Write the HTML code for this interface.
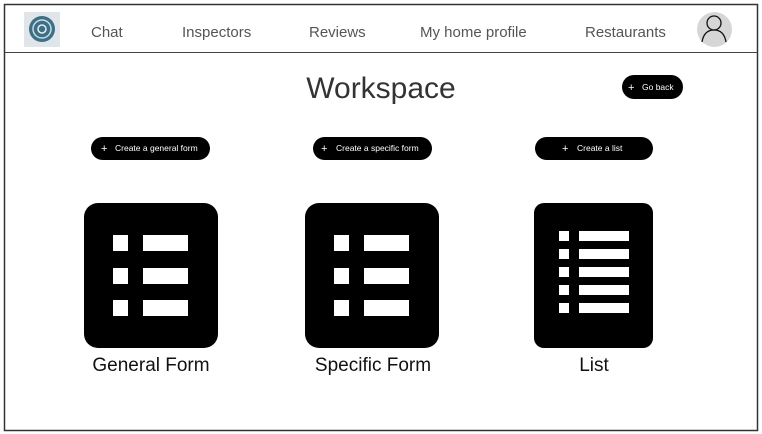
<!DOCTYPE html>
<html><head><meta charset="utf-8"><style>
html,body{margin:0;padding:0;background:#fff;width:762px;height:434px;overflow:hidden}
svg text{font-family:"Liberation Sans",sans-serif}
</style></head><body>
<svg width="762" height="434" viewBox="0 0 762 434" xmlns="http://www.w3.org/2000/svg">
<rect x="4.5" y="4.5" width="753" height="426" fill="#fff" stroke="#333" stroke-width="1.5"/>
<line x1="5" y1="52.5" x2="757" y2="52.5" stroke="#444" stroke-width="1"/>
<rect x="24" y="12" width="36" height="35" fill="#dfe5e8"/>
<circle cx="42" cy="29" r="13" fill="#3d6f86"/>
<circle cx="42" cy="29" r="9" fill="none" stroke="#c9dbe3" stroke-width="1.5"/>
<circle cx="42" cy="29" r="4" fill="none" stroke="#e6eef2" stroke-width="1.5"/>
<g font-size="15" fill="#555">
<text x="91" y="37">Chat</text>
<text x="182" y="37">Inspectors</text>
<text x="309" y="37">Reviews</text>
<text x="420" y="37">My home profile</text>
<text x="585" y="37">Restaurants</text>
</g>
<circle cx="714.5" cy="29.5" r="17.5" fill="#d6d6d6"/>
<circle cx="714" cy="23" r="7" fill="none" stroke="#111" stroke-width="1.3"/>
<path d="M702 42 Q704 30 714 30 Q724 30 726 42" fill="none" stroke="#111" stroke-width="1.3"/>
<text x="381" y="98" font-size="30" fill="#333" text-anchor="middle">Workspace</text>
<rect x="622" y="75" width="61" height="24" rx="12" fill="#000"/>
<text x="628" y="91" font-size="11" fill="#fff">+</text>
<text x="642" y="90" font-size="8.5" fill="#fff">Go back</text>
<g fill="#000">
<rect x="91" y="137" width="119" height="23" rx="11.5"/>
<rect x="313" y="137" width="119" height="23" rx="11.5"/>
<rect x="535" y="137" width="118" height="23" rx="11.5"/>
</g>
<g fill="#fff" font-size="8.5">
<text x="101" y="152" font-size="11">+</text><text x="115" y="151">Create a general form</text>
<text x="321" y="152" font-size="11">+</text><text x="336" y="151">Create a specific form</text>
<text x="562" y="152" font-size="11">+</text><text x="577" y="151">Create a list</text>
</g>
<rect x="84" y="203" width="134" height="145" rx="14" fill="#000"/>
<g fill="#fff">
<rect x="113" y="235" width="15" height="16"/><rect x="143" y="235" width="45" height="16"/>
<rect x="113" y="268" width="15" height="16"/><rect x="143" y="268" width="45" height="16"/>
<rect x="113" y="300" width="15" height="16"/><rect x="143" y="300" width="45" height="16"/>
</g>
<rect x="305" y="203" width="134" height="145" rx="14" fill="#000"/>
<g fill="#fff">
<rect x="334" y="235" width="15" height="16"/><rect x="364" y="235" width="45" height="16"/>
<rect x="334" y="268" width="15" height="16"/><rect x="364" y="268" width="45" height="16"/>
<rect x="334" y="300" width="15" height="16"/><rect x="364" y="300" width="45" height="16"/>
</g>
<rect x="534" y="203" width="119" height="145" rx="10" fill="#000"/>
<g fill="#fff">
<rect x="559" y="231" width="10" height="10"/><rect x="579" y="231" width="50" height="10"/>
<rect x="559" y="249" width="10" height="10"/><rect x="579" y="249" width="50" height="10"/>
<rect x="559" y="267" width="10" height="10"/><rect x="579" y="267" width="50" height="10"/>
<rect x="559" y="285" width="10" height="10"/><rect x="579" y="285" width="50" height="10"/>
<rect x="559" y="303" width="10" height="10"/><rect x="579" y="303" width="50" height="10"/>
</g>
<g font-size="19" fill="#111" text-anchor="middle">
<text x="151" y="371">General Form</text>
<text x="373" y="371">Specific Form</text>
<text x="594" y="371">List</text>
</g>
</svg>
</body></html>
